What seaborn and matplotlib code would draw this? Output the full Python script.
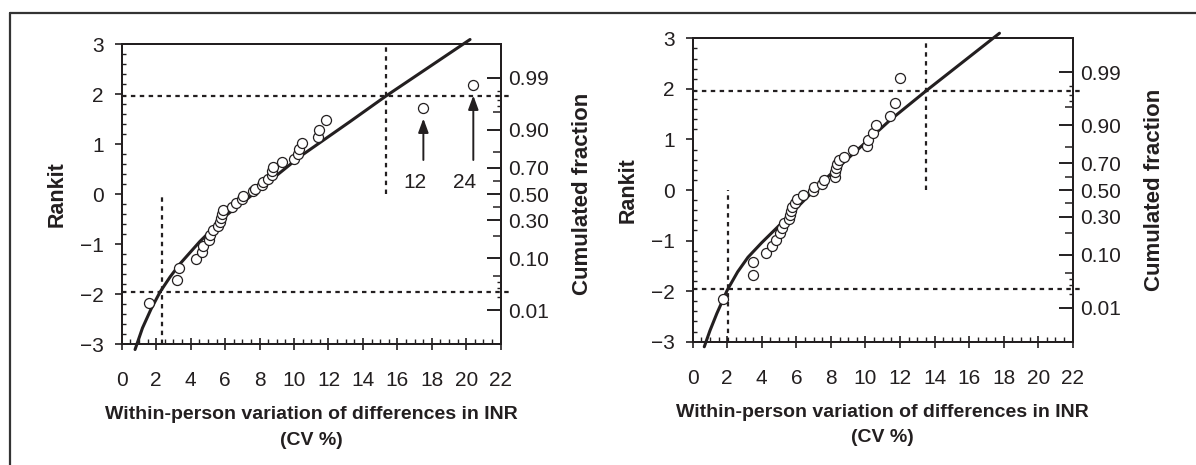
from statistics import NormalDist

import matplotlib
matplotlib.use('Agg')
import matplotlib.pyplot as plt
import pandas as pd
import seaborn as sns
from matplotlib.lines import Line2D
from matplotlib.ticker import MultipleLocator

# ---- data ------------------------------------------------------------------
left_cv = [1.59, 3.22, 3.33, 4.28, 4.63, 4.69, 5.08, 5.12, 5.31, 5.60, 5.70, 5.76,
           5.83, 5.89, 6.38, 6.63, 6.96, 7.02, 7.64, 7.73, 8.12, 8.22, 8.51, 8.70,
           8.74, 8.80, 9.28, 10.00, 10.25, 10.29, 10.48, 11.41, 11.45, 11.86,
           17.51, 20.41]
left_rankit = [-2.17, -1.72, -1.47, -1.30, -1.15, -1.03, -0.92, -0.82, -0.72, -0.64,
               -0.55, -0.47, -0.39, -0.31, -0.25, -0.17, -0.09, -0.03, 0.07, 0.11,
               0.18, 0.25, 0.31, 0.38, 0.46, 0.55, 0.65, 0.71, 0.81, 0.90, 1.03,
               1.15, 1.29, 1.48, 1.73, 2.19]
left_curve_cv = [0.77, 1.20, 1.70, 2.22, 2.80, 3.37, 4.53, 6.09, 8.41, 10.35,
                 13.26, 15.34, 20.22]
left_curve_rankit = [-3.11, -2.68, -2.30, -1.96, -1.66, -1.40, -0.95, -0.42,
                     0.21, 0.75, 1.45, 1.96, 3.09]
left_cutoffs = [2.33, 15.34]
outlier_labels = ['12', '24']
outlier_idx = [34, 35]

right_cv = [1.77, 3.47, 3.51, 4.24, 4.57, 4.82, 5.06, 5.15, 5.29, 5.60, 5.63, 5.67,
            5.73, 5.92, 6.06, 6.41, 6.98, 7.02, 7.50, 7.60, 8.24, 8.24, 8.28, 8.34,
            8.47, 8.78, 9.26, 10.07, 10.17, 10.42, 10.61, 11.45, 11.70, 12.00]
right_rankit = [-2.16, -1.68, -1.42, -1.24, -1.11, -0.99, -0.86, -0.76, -0.66, -0.58,
                -0.49, -0.41, -0.33, -0.25, -0.18, -0.10, -0.01, 0.05, 0.12, 0.20,
                0.26, 0.35, 0.43, 0.51, 0.59, 0.66, 0.79, 0.87, 0.99, 1.12, 1.29,
                1.46, 1.73, 2.21]
right_curve_cv = [0.67, 1.00, 1.40, 2.00, 2.60, 3.20, 4.00, 5.25, 7.56, 9.88, 11.42,
                  13.51, 17.76]
right_curve_rankit = [-3.10, -2.78, -2.44, -1.98, -1.62, -1.33, -1.04, -0.62, 0.18,
                      0.90, 1.38, 1.96, 3.10]
right_cutoffs = [2.03, 13.51]

major_probs = ['0.01', '0.10', '0.30', '0.50', '0.70', '0.90', '0.99']
mid_probs = [0.05, 0.20, 0.40, 0.60, 0.80, 0.95]
small_probs = [0.02, 0.03, 0.04, 0.96, 0.97, 0.98]

xlabel = 'Within-person variation of differences in INR\n(CV %)'
INK = '#231f20'
FONT = ['Liberation Sans', 'DejaVu Sans']

sns.set_theme(style='ticks')
plt.rcParams['font.family'] = FONT
plt.rcParams['axes.edgecolor'] = INK
plt.rcParams['xtick.color'] = INK
plt.rcParams['ytick.color'] = INK
plt.rcParams['text.color'] = INK
plt.rcParams['axes.labelcolor'] = INK

nd = NormalDist()
z = nd.inv_cdf(0.975)


def draw_panel(fig, rect, cv, rankit, curve_cv, curve_rankit, cutoffs, outliers=None):
    ax = fig.add_axes(rect)
    pts = pd.DataFrame({'cv': cv, 'rankit': rankit})
    curve = pd.DataFrame({'cv': curve_cv, 'rankit': curve_rankit})

    dots = dict(color=INK, lw=1.6, ls=(0, (2.0, 2.0)), clip_on=False, zorder=2)
    ax.plot([0, 22.5], [z, z], **dots)
    ax.plot([0, 22.5], [-z, -z], **dots)
    ax.plot([cutoffs[0]] * 2, [-3, 0], **dots)
    ax.plot([cutoffs[1]] * 2, [0, 3], **dots)

    sns.lineplot(data=curve, x='cv', y='rankit', sort=False, color=INK, lw=2.2,
                 ax=ax, zorder=3, clip_on=False)
    sns.scatterplot(data=pts, x='cv', y='rankit', marker='o', s=52, color='white',
                    edgecolor=INK, linewidth=0.9, ax=ax, zorder=4, clip_on=False)

    if outliers:
        for lab, i in outliers:
            x, y = cv[i], rankit[i]
            ax.annotate('', xy=(x, y - 0.22), xytext=(x, 0.68),
                        arrowprops=dict(arrowstyle='-|>,head_length=0.6,head_width=0.22',
                                        mutation_scale=14, color=INK, lw=1.4,
                                        shrinkA=0, shrinkB=0))
            ax.text(x - 0.5, 0.23, lab, ha='center', va='center', fontsize=15)

    ax.set_xlim(0, 22)
    ax.set_ylim(-3, 3)
    ax.set_xticks(range(0, 23, 2))
    ax.set_yticks(range(-3, 4))
    ax.set_yticklabels([str(v).replace('-', '\u2212') for v in range(-3, 4)])
    ax.xaxis.set_minor_locator(MultipleLocator(0.5))
    ax.yaxis.set_minor_locator(MultipleLocator(0.2))
    ax.tick_params(axis='x', which='major', direction='inout', length=9, width=1.2,
                   labelsize=15, pad=15)
    ax.tick_params(axis='x', which='minor', direction='in', length=3.5, width=1)
    ax.tick_params(axis='y', which='major', direction='out', length=5, width=1.2,
                   labelsize=15, pad=8)
    ax.tick_params(axis='y', which='minor', direction='in', length=3, width=1)
    for s in ax.spines.values():
        s.set_visible(True)
        s.set_linewidth(1.4)
    ax.set_xlabel(xlabel, fontweight='bold', fontsize=14, labelpad=11.5, linespacing=1.65)
    ax.set_ylabel('Rankit', fontweight='bold', fontsize=15.5, labelpad=9)

    ax2 = ax.twinx()
    ax2.set_ylim(-3, 3)
    ax2.set_yticks([nd.inv_cdf(float(p)) for p in major_probs], labels=major_probs)
    ax2.set_yticks([nd.inv_cdf(p) for p in mid_probs], minor=True)
    ax2.tick_params(axis='y', which='major', direction='in', length=10, width=1.4,
                    labelsize=15, pad=5)
    ax2.tick_params(axis='y', which='minor', direction='in', length=6, width=1.1)
    ax2.set_ylabel('Cumulated fraction', fontweight='bold', fontsize=16, labelpad=17)

    ax3 = ax.twinx()
    ax3.set_ylim(-3, 3)
    ax3.set_yticks([nd.inv_cdf(p) for p in small_probs], labels=[''] * len(small_probs))
    ax3.tick_params(axis='y', which='major', direction='in', length=3, width=1)
    for s in ax3.spines.values():
        s.set_visible(False)
    return ax


fig = plt.figure(figsize=(11.96, 4.65), dpi=100)
W, H = 1196, 465
draw_panel(fig, [121.8 / W, 1 - 344 / H, 378.9 / W, 300 / H],
           left_cv, left_rankit, left_curve_cv, left_curve_rankit, left_cutoffs,
           outliers=list(zip(outlier_labels, outlier_idx)))
draw_panel(fig, [692.7 / W, 1 - 341.7 / H, 380 / W, 303.4 / H],
           right_cv, right_rankit, right_curve_cv, right_curve_rankit, right_cutoffs)

# frame round the figure (open at right and bottom as in the scan)
fig.add_artist(Line2D([9.5 / W, 9.5 / W], [0, 1 - 13 / H], color='#333333', lw=1.6))
fig.add_artist(Line2D([9.5 / W, 1], [1 - 13 / H, 1 - 13 / H], color='#333333', lw=1.6))

fig.savefig('out.png', dpi=100)
